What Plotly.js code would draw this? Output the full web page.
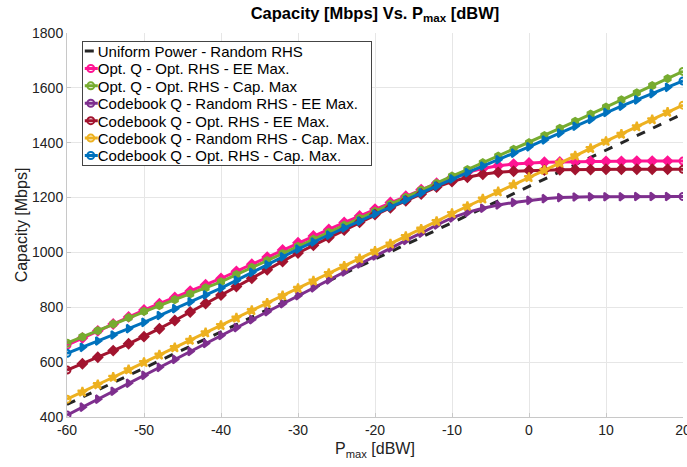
<!DOCTYPE html>
<html>
<head>
<meta charset="utf-8">
<script src="https://cdn.plot.ly/plotly-3.0.1.min.js"></script>
<style>html,body{margin:0;padding:0;background:#fff;}#chart{width:687px;height:467px;}</style>
</head>
<body>
<div id="chart"></div>
<script>
const pmax = [-60,-58,-56,-54,-52,-50,-48,-46,-44,-42,-40,-38,-36,-34,-32,-30,-28,-26,-24,-22,-20,-18,-16,-14,-12,-10,-8,-6,-4,-2,0,2,4,6,8,10,12,14,16,18,20];

const seriesNames = [
  "Uniform Power - Random RHS",
  "Opt. Q - Opt. RHS - EE Max.",
  "Opt. Q - Opt. RHS - Cap. Max",
  "Codebook Q - Random RHS - EE Max.",
  "Codebook Q - Opt. RHS - EE Max.",
  "Codebook Q - Random RHS - Cap. Max.",
  "Codebook Q - Opt. RHS - Cap. Max."
];

const uniformRandom = [446,472,499,525,552,578,605,631,658,684,711,737,764,790,817,843,870,896,923,949,976,1002,1029,1055,1082,1108,1135,1161,1188,1214,1241,1267,1294,1320,1346,1373,1399,1426,1452,1479,1505];
const optQOptEE = [662,688,714,739,765,790,813,836,859,882,905,931,957,983,1009,1035,1060,1084,1109,1133,1158,1182,1205,1229,1252,1273,1292,1306,1316,1322,1326,1329,1330,1331,1332,1332,1332,1333,1333,1333,1333];
const optQOptCap = [669,692,715,739,762,785,806,828,849,871,893,919,945,970,996,1022,1048,1073,1099,1124,1150,1176,1201,1227,1252,1278,1302,1327,1351,1376,1400,1426,1452,1478,1504,1530,1556,1582,1608,1634,1660];
const cbRandomEE = [407,436,465,494,523,552,581,610,639,668,697,726,755,784,813,842,871,900,929,958,987,1016,1044,1070,1100,1126,1146,1161,1173,1182,1190,1196,1200,1202,1203,1203,1203,1204,1204,1204,1204];
const cbOptEE = [571,594,618,642,667,693,722,752,783,814,845,876,906,937,967,998,1026,1054,1082,1110,1138,1163,1188,1213,1238,1258,1274,1285,1292,1296,1299,1300,1301,1302,1302,1303,1303,1303,1303,1303,1303];
const cbRandomCap = [465,491,518,545,572,599,626,653,680,707,734,761,788,815,842,869,896,923,950,977,1004,1031,1058,1085,1113,1142,1168,1195,1221,1247,1273,1300,1326,1352,1379,1405,1431,1458,1484,1511,1537];
const cbOptCap = [632,654,677,699,722,745,770,795,820,845,870,898,927,955,984,1012,1038,1063,1089,1114,1140,1166,1191,1217,1242,1268,1291,1315,1338,1362,1385,1410,1435,1460,1485,1510,1533,1556,1579,1602,1625];

const xTicks = [-60,-50,-40,-30,-20,-10,0,10,20];
const yTicks = [400,600,800,1000,1200,1400,1600,1800];

const FONT = "Liberation Sans, Arial, Helvetica, sans-serif";

function symbols(sym, n) {
  const s = [];
  for (let i = 0; i < n; i++) s.push((i === 0 || i === n - 1) ? "circle-open" : sym);
  return s;
}

const styles = [
  {data: uniformRandom, color: "#262626", dash: "dash", sym: null},
  {data: optQOptEE, color: "#FF1493", dash: "solid", sym: "diamond"},
  {data: optQOptCap, color: "#77AC30", dash: "solid", sym: "hexagon"},
  {data: cbRandomEE, color: "#7E2F8E", dash: "solid", sym: "triangle-right"},
  {data: cbOptEE, color: "#A2142F", dash: "solid", sym: "diamond"},
  {data: cbRandomCap, color: "#EDB120", dash: "solid", sym: "star"},
  {data: cbOptCap, color: "#0072BD", dash: "solid", sym: "triangle-right"}
];

const traces = styles.map((st, i) => {
  const t = {
    x: pmax, y: st.data, name: seriesNames[i], type: "scatter",
    line: {color: st.color, width: 3, dash: st.dash}
  };
  if (st.sym) {
    t.mode = "lines+markers";
    t.marker = {symbol: symbols(st.sym, pmax.length), size: 7, color: st.color, line: {width: 2, color: st.color}};
  } else {
    t.mode = "lines";
  }
  return t;
});

const layout = {
  width: 687, height: 467,
  margin: {l: 67, r: 4, t: 33, b: 50},
  paper_bgcolor: "#fff", plot_bgcolor: "#fff",
  font: {family: FONT, size: 14, color: "#222"},
  title: {text: "<b>Capacity [Mbps] Vs. P<sub>max</sub> [dBW]</b>", x: 0.5, xref: "paper", y: 0.984, yref: "container", yanchor: "top", font: {family: FONT, size: 16.5, color: "#000"}},
  xaxis: {
    range: [-60, 20], tickvals: xTicks, ticktext: xTicks.map(String),
    showgrid: true, gridcolor: "#e6e6e6", gridwidth: 1, zeroline: false,
    showline: true, linecolor: "#c8c8c8", linewidth: 1,
    ticks: "inside", ticklen: 4, tickcolor: "#c8c8c8",
    ticklabeloverflow: "allow",
    tickfont: {family: FONT, size: 14, color: "#222"},
    title: {text: "P<sub>max</sub> [dBW]", font: {family: FONT, size: 16, color: "#222"}, standoff: 6}
  },
  yaxis: {
    range: [400, 1800], tickvals: yTicks, ticktext: yTicks.map(String),
    showgrid: true, gridcolor: "#e6e6e6", gridwidth: 1, zeroline: false,
    showline: true, linecolor: "#c8c8c8", linewidth: 1,
    ticks: "inside", ticklen: 4, tickcolor: "#c8c8c8",
    ticklabeloverflow: "allow",
    tickfont: {family: FONT, size: 14, color: "#222"},
    title: {text: "Capacity [Mbps]", font: {family: FONT, size: 16, color: "#222"}, standoff: 0}
  },
  legend: {
    x: 0.024, y: 0.979, xanchor: "left", yanchor: "top",
    bgcolor: "#fff", bordercolor: "#444", borderwidth: 1,
    font: {family: FONT, size: 15, color: "#000"},
    itemwidth: 30, tracegroupgap: 0
  },
  showlegend: true
};

// compact the legend rows and sample symbols to match the MATLAB-style legend
function compactLegend(gd) {
  const leg = gd.querySelector(".legend");
  if (!leg) return;
  const ROW = 17.4, TOP = 10, SHIFT = 25;
  const items = leg.querySelectorAll(".traces");
  items.forEach((g, i) => {
    const tr = g.getAttribute("transform") || "";
    const m = /translate\(\s*([-\d.]+)[ ,]+([-\d.]+)\s*\)/.exec(tr);
    const x = m ? parseFloat(m[1]) : 1;
    g.setAttribute("transform", "translate(" + x + "," + (TOP + i * ROW) + ")");
    const txt = g.querySelector(".legendtext");
    if (txt) {
      const tx = parseFloat(txt.getAttribute("x") || "40");
      txt.setAttribute("x", tx - SHIFT);
      txt.querySelectorAll("tspan[x]").forEach(ts => ts.setAttribute("x", parseFloat(ts.getAttribute("x")) - SHIFT));
    }
    g.querySelectorAll(".legendlines path").forEach(p => p.setAttribute("d", "M2,0h13"));
    g.querySelectorAll(".legendpoints path").forEach(p => p.setAttribute("transform", "translate(8,0)"));
  });
  const bg = leg.querySelector("rect.bg");
  if (bg) {
    const w = parseFloat(bg.getAttribute("width"));
    bg.setAttribute("width", w - SHIFT - 4);
    bg.setAttribute("height", TOP + (items.length - 1) * ROW + 10);
  }
}

Plotly.newPlot("chart", traces, layout, {displayModeBar: false, staticPlot: true}).then(compactLegend);
</script>
</body>
</html>
